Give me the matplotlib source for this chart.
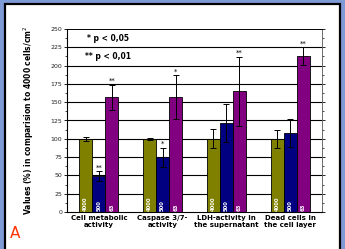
import matplotlib
matplotlib.use("Agg")
import matplotlib.pyplot as plt
from matplotlib.patches import Rectangle
from matplotlib.ticker import MultipleLocator
import numpy as np

categories = ["Cell metabolic\nactivity", "Caspase 3/7-\nactivity", "LDH-activity in\nthe supernatant", "Dead cells in\nthe cell layer"]
series_names = ["4000", "500", "63"]
values = {
    "4000": [100, 100, 100, 100],
    "500": [49, 75, 122, 108],
    "63": [157, 157, 165, 213],
}
errors = {
    "4000": [3, 1, 13, 12],
    "500": [7, 13, 26, 19],
    "63": [17, 30, 47, 12],
}
stars = {
    "4000": ["", "", "", ""],
    "500": ["**", "*", "", ""],
    "63": ["**", "*", "**", "**"],
}
colors = {"4000": "#808000", "500": "#000080", "63": "#800080"}
yticks = [0, 25, 50, 75, 100, 125, 150, 175, 200, 225, 250]

fig = plt.figure(figsize=(3.45, 2.49), dpi=100)
fig.patch.set_facecolor("#7f9bd6")
fig.patches.append(Rectangle((4.5/345, -0.05), (339.5-4.5)/345, 1.05 - 4.5/249,
                             transform=fig.transFigure, facecolor="white",
                             edgecolor="black", linewidth=1.6, zorder=-10))

ax = fig.add_axes([67/345, 1-212/249, (322-67)/345, (212-29)/249])
ax.set_zorder(5)
ax.set_facecolor("white")
x = np.arange(len(categories))
w = 0.205
for i, s in enumerate(series_names):
    xs = x + (i - 1) * w
    ax.bar(xs, values[s], w, color=colors[s], edgecolor="black", linewidth=0.6, zorder=3)
    ax.errorbar(xs, values[s], yerr=errors[s], fmt="none", ecolor="black",
                elinewidth=0.7, capsize=2, capthick=0.7, zorder=4)
    for xi, v, e, st in zip(xs, values[s], errors[s], stars[s]):
        ax.text(xi, 0.8, s, rotation=90, color="white", fontsize=3.8,
                fontweight="bold", ha="center", va="bottom", zorder=5)
        if st:
            ax.text(xi, v + e + 1, st, ha="center", va="bottom", fontsize=5, zorder=5)

ax.set_xlim(-0.5, 3.5)
ax.set_ylim(0, 250)
ax.set_yticks(yticks)
ax.yaxis.set_minor_locator(MultipleLocator(12.5))
ax.tick_params(axis="y", which="major", labelsize=4.5, length=2.5, width=0.6, pad=1,
               right=True, direction="out", labelcolor="#222222")
ax.tick_params(axis="y", which="minor", length=1.5, width=0.5, right=True)
ax.set_xticks(x)
ax.set_xticklabels(categories, fontsize=5, fontweight="bold", linespacing=1.3)
ax.tick_params(axis="x", length=0, pad=2)
for yv in yticks[1:-1]:
    ax.axhline(yv, color="black", linewidth=0.8, zorder=1)
ax.spines["top"].set_linestyle((0, (1, 1)))
ax.spines["top"].set_linewidth(0.7)
ax.spines["right"].set_color("#555555")
ax.spines["right"].set_linewidth(0.6)
ax.spines["left"].set_linewidth(0.8)
ax.spines["bottom"].set_linewidth(0.8)

ax.text(0.16, 237.5, "* p < 0,05", transform=ax.get_yaxis_transform(),
        ha="center", va="center", fontsize=5.5, fontweight="bold")
ax.text(0.16, 212.5, "** p < 0,01", transform=ax.get_yaxis_transform(),
        ha="center", va="center", fontsize=5.5, fontweight="bold")

ax.set_ylabel("Values (%) in comparision to 4000 cells/cm$^2$", fontsize=5.5,
              fontweight="bold", labelpad=10)

fig.text(10/345, 1-233/249, "A", color="#ff3300", fontsize=11, ha="left", va="center")

fig.savefig("out.png", dpi=100, facecolor=fig.get_facecolor())
